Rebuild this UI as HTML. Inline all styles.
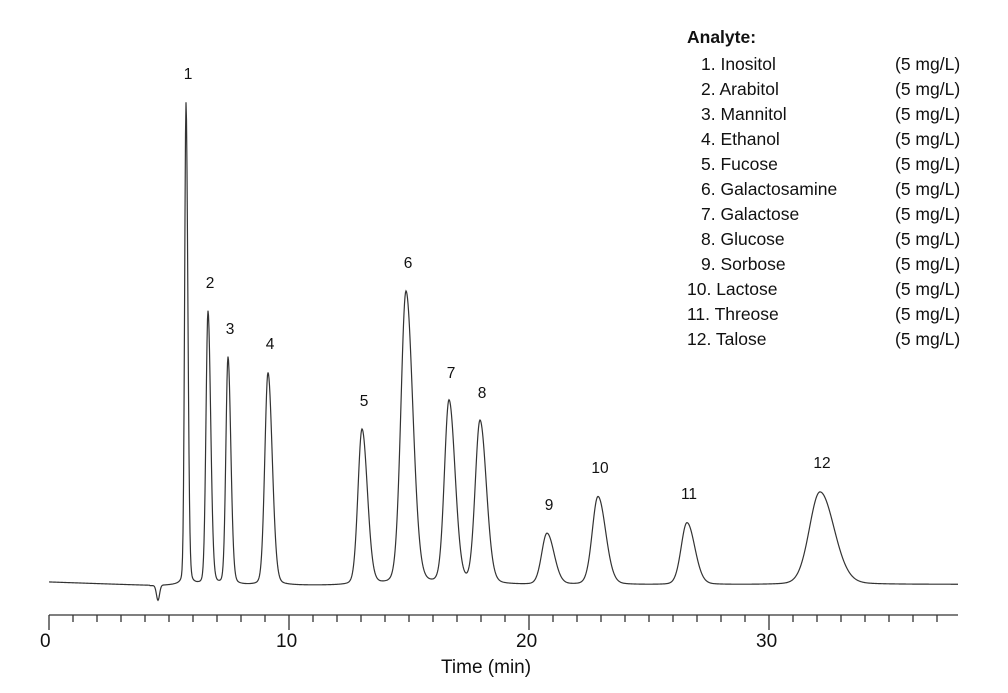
<!DOCTYPE html>
<html><head><meta charset="utf-8"><style>
html,body{margin:0;padding:0;background:#fff;}
body{width:1008px;height:693px;position:relative;overflow:hidden;font-family:"Liberation Sans","DejaVu Sans",sans-serif;color:#111;}
.t{position:absolute;font-size:17.5px;white-space:nowrap;line-height:1;}
.pl{position:absolute;font-size:15.5px;line-height:1;transform:translateX(-50%);}
</style></head><body>
<svg id="s" width="1008" height="693" style="position:absolute;left:0;top:0">
<path id="tr" d="" fill="none" stroke="#333" stroke-width="1.2"/>
<line x1="49" y1="615" x2="958" y2="615" stroke="#333" stroke-width="1.3"/>
<g id="ticks" stroke="#333" stroke-width="1.3"></g>
</svg>
<div class="t" style="left:40px;top:632px;font-size:19px">0</div>
<div class="t" style="left:276px;top:632px;font-size:19px">10</div>
<div class="t" style="left:516px;top:632px;font-size:19px">20</div>
<div class="t" style="left:756px;top:632px;font-size:19px">30</div>
<div class="t" style="left:441px;top:658px;font-size:19px">Time (min)</div>
<div id="lab"></div>
<div id="leg"></div>
<script>
var ns="http://www.w3.org/2000/svg",g=document.getElementById('ticks');
for(var m=0;m<=37;m++){var x=49+m*24,l=document.createElementNS(ns,'line');l.setAttribute('x1',x);l.setAttribute('x2',x);l.setAttribute('y1',615);l.setAttribute('y2',m%10==0?630:622);g.appendChild(l);}
var P=[[186,103,1.3,1],[208,312,1.9,2],[228,358,2.0,3],[268,373,3.0,4],[362,430,3.8,5],[406,292,4.8,6],[449,402,4.3,7],[480,422,4.5,8],[547,534,5.0,9],[598,497,5.4,10],[687,523,5.5,11],[820,492,10,12]];
var d="",lab="";
for(var x=49;x<=958;x+=0.5){
 var base=x<150?582+(x-49)*0.035:(x<183?586-(x-150)*0.03:586-(x-183)*0.002);
 var y=base;
 y+=15*Math.exp(-Math.pow((x-158)/2.2,2));
 for(var i=0;i<P.length;i++){var p=P[i],h=(base-p[1]),s=p[2]*(x>p[0]?1.4:1.05);
  var gz=Math.exp(-0.5*Math.pow((x-p[0])/s,2)), lz=1/(1+Math.pow((x-p[0])/(s*1.4),2));
  y-=h*(0.9*gz+0.1*lz);}
 d+=(x==49?"M":"L")+x+" "+y.toFixed(2);
}
document.getElementById('tr').setAttribute('d',d);
for(var i=0;i<P.length;i++)lab+='<div class="pl" style="left:'+(P[i][0]+2)+'px;top:'+(P[i][1]-36)+'px">'+P[i][3]+'</div>';
document.getElementById('lab').innerHTML=lab;
var N=["Inositol","Arabitol","Mannitol","Ethanol","Fucose","Galactosamine","Galactose","Glucose","Sorbose","Lactose","Threose","Talose"];
var L='<div class="t" style="left:687px;top:29px;font-weight:bold">Analyte:</div>';
for(var i=0;i<12;i++){var y=56+i*25;L+='<div class="t" style="left:'+(i<9?701:687)+'px;top:'+y+'px">'+(i+1)+'. '+N[i]+'</div><div class="t" style="left:895px;top:'+y+'px">(5 mg/L)</div>';}
document.getElementById('leg').innerHTML=L;
</script>
</body></html>
